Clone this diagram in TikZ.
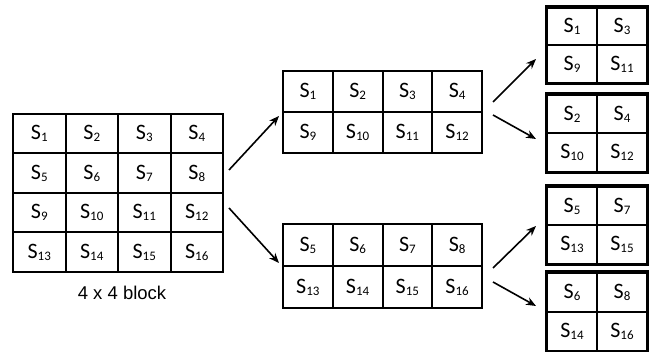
\documentclass[tikz,border=0pt]{standalone}
\usepackage{fontspec}
\setmainfont{Carlito}
\newfontfamily\lblfont{Liberation Sans}
\usetikzlibrary{arrows.meta,calc}
\newcommand\cellS[1]{S\raisebox{-2pt}{\fontsize{13}{14}\selectfont #1}}
\tikzset{
  cell/.style={draw, line width=2pt, inner sep=0pt, font=\fontsize{22}{24}\selectfont, anchor=center},
  frame/.style={draw, line width=3pt},
  link/.style={line width=1.6pt, -{Stealth[length=10pt,width=8pt]}},
}
\begin{document}
\begin{tikzpicture}[x=1pt,y=-1pt]
\useasboundingbox (0,0) rectangle (649,352);
% big 4x4 grid
\foreach \lab [count=\i from 0] in {1,...,16}{
  \pgfmathtruncatemacro\c{mod(\i,4)}
  \pgfmathtruncatemacro\r{div(\i,4)}
  \node[cell, minimum width=52.5pt, minimum height=39.5pt] (A-\lab) at ({13+52.5*(\c+0.5)},{114+39.5*(\r+0.5)}) {\cellS{\lab}};
}
\node[font=\lblfont\fontsize{18.5}{20}\selectfont] (lbl) at (122,293) {4 x 4 block};
% middle grids
\foreach \lab [count=\i from 0] in {1,2,3,4,9,10,11,12}{
  \pgfmathtruncatemacro\c{mod(\i,4)}
  \pgfmathtruncatemacro\r{div(\i,4)}
  \node[cell, minimum width=49.75pt, minimum height=41pt] (B-\lab) at ({283+49.75*(\c+0.5)},{71+41*(\r+0.5)}) {\cellS{\lab}};
}
\foreach \lab [count=\i from 0] in {5,6,7,8,13,14,15,16}{
  \pgfmathtruncatemacro\c{mod(\i,4)}
  \pgfmathtruncatemacro\r{div(\i,4)}
  \node[cell, minimum width=49.75pt, minimum height=42pt] (C-\lab) at ({283+49.75*(\c+0.5)},{224+42*(\r+0.5)}) {\cellS{\lab}};
}
% right grids
\foreach \lab [count=\i from 0] in {1,3,9,11}{
  \pgfmathtruncatemacro\c{mod(\i,2)}
  \pgfmathtruncatemacro\r{div(\i,2)}
  \node[cell, minimum width=50pt, minimum height=37.5pt] (D-\lab) at ({547+50*(\c+0.5)},{8+37.5*(\r+0.5)}) {\cellS{\lab}};
}
\draw[frame] (D-1.north west) rectangle (D-11.south east);
\foreach \lab [count=\i from 0] in {2,4,10,12}{
  \pgfmathtruncatemacro\c{mod(\i,2)}
  \pgfmathtruncatemacro\r{div(\i,2)}
  \node[cell, minimum width=50pt, minimum height=38.5pt] (E-\lab) at ({547+50*(\c+0.5)},{95+38.5*(\r+0.5)}) {\cellS{\lab}};
}
\draw[frame] (E-2.north west) rectangle (E-12.south east);
\foreach \lab [count=\i from 0] in {5,7,13,15}{
  \pgfmathtruncatemacro\c{mod(\i,2)}
  \pgfmathtruncatemacro\r{div(\i,2)}
  \node[cell, minimum width=50pt, minimum height=38.5pt] (F-\lab) at ({547+50*(\c+0.5)},{187+38.5*(\r+0.5)}) {\cellS{\lab}};
}
\draw[frame] (F-5.north west) rectangle (F-15.south east);
\foreach \lab [count=\i from 0] in {6,8,14,16}{
  \pgfmathtruncatemacro\c{mod(\i,2)}
  \pgfmathtruncatemacro\r{div(\i,2)}
  \node[cell, minimum width=50pt, minimum height=39pt] (G-\lab) at ({547+50*(\c+0.5)},{273+39*(\r+0.5)}) {\cellS{\lab}};
}
\draw[frame] (G-6.north west) rectangle (G-16.south east);
% arrow end points
\coordinate (a1s) at (229,170); \coordinate (a1e) at (279,116);
\coordinate (a2s) at (229,208); \coordinate (a2e) at (279,263);
\coordinate (b1s) at (493,102); \coordinate (b1e) at (536,59);
\coordinate (b2s) at (493,115); \coordinate (b2e) at (536,139);
\coordinate (c1s) at (493,268); \coordinate (c1e) at (536,226);
\coordinate (c2s) at (493,282); \coordinate (c2e) at (536,306);
\draw[link] (a1s) -- (a1e);
\draw[link] (a2s) -- (a2e);
\draw[link] (b1s) -- (b1e);
\draw[link] (b2s) -- (b2e);
\draw[link] (c1s) -- (c1e);
\draw[link] (c2s) -- (c2e);
\end{tikzpicture}
\end{document}
